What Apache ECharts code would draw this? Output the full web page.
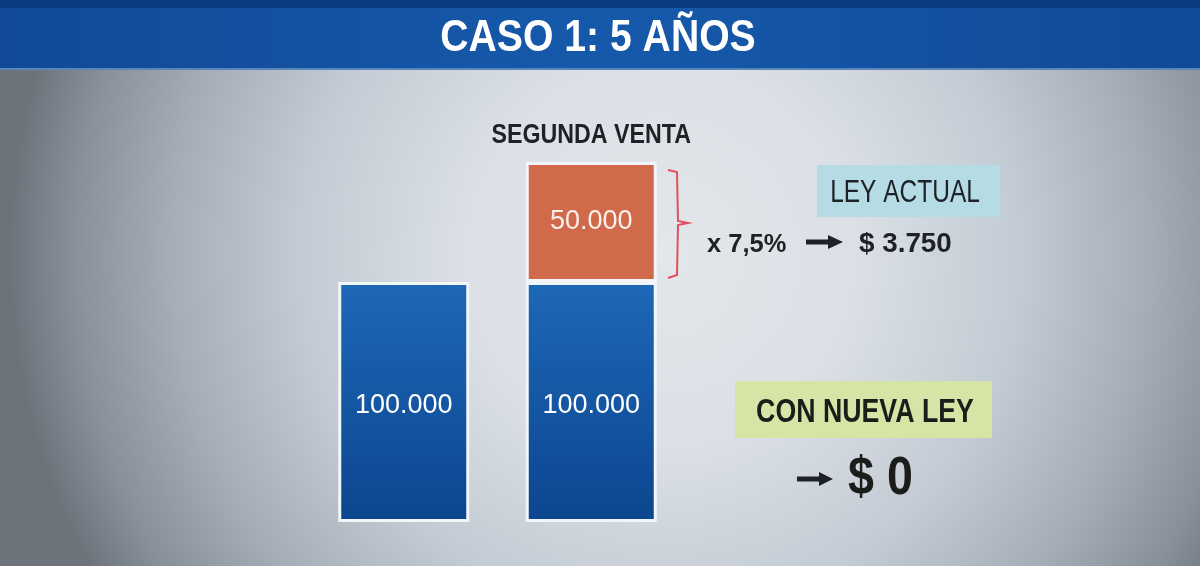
<!DOCTYPE html>
<html>
<head>
<meta charset="utf-8">
<script src="https://cdn.jsdelivr.net/npm/echarts@6/dist/echarts.min.js"></script>
<style>html,body{margin:0;padding:0;}#c{width:1200px;height:566px;}</style>
</head>
<body>
<div id="c"></div>
<script>
// ---- data ----
const titleText = 'CASO 1: 5 AÑOS';
const categories = ['PRIMERA VENTA', 'SEGUNDA VENTA'];
const topLabels = ['', 'SEGUNDA VENTA'];
const baseValues = [100000, 100000];
const gainValues = [null, 50000];
const taxRatePct = 7.5;
const newLawTax = 0;
const currentLawLabel = 'LEY ACTUAL';
const newLawLabel = 'CON NUEVA LEY';

const fmt = v => String(Math.round(v)).replace(/\B(?=(\d{3})+(?!\d))/g, '.');
const totals = baseValues.map((b, i) => (gainValues[i] == null ? b : b + gainValues[i]));
const taxCurrent = gainValues[1] * taxRatePct / 100;

const SANS = '"Liberation Sans", Arial, sans-serif';
const DARK = '#1e2226';
const chart = echarts.init(document.getElementById('c'));

function txt(x, y, text, font, fill, sx, align) {
  return { type: 'text', x: x, y: y, scaleX: sx || 1, z: 10,
    style: { x: 0, y: 0, text: text, font: font, fill: fill, textAlign: align || 'center', textVerticalAlign: 'middle' } };
}

chart.setOption({
  backgroundColor: {
    type: 'radial', x: 0.55, y: 0.45, r: 1.15,
    colorStops: [
      { offset: 0, color: '#e3e7eb' },
      { offset: 0.3, color: '#dbe0e6' },
      { offset: 0.55, color: '#c3cbd4' },
      { offset: 0.75, color: '#a5aeb8' },
      { offset: 0.9, color: '#88909a' },
      { offset: 1, color: '#6c737b' }
    ]
  },
  animation: false,
  grid: { left: 310, width: 375, top: 42, bottom: 44 },
  xAxis: { type: 'category', data: categories, show: false },
  yAxis: { type: 'value', min: 0, max: 200000, show: false },
  series: [
    {
      type: 'bar', stack: 's', data: baseValues, barWidth: 131,
      itemStyle: {
        color: { type: 'linear', x: 0, y: 0, x2: 0, y2: 1,
          colorStops: [{ offset: 0, color: '#1d68b7' }, { offset: 1, color: '#0c458f' }] },
        borderColor: '#f2f6f9', borderWidth: 3
      },
      label: { show: true, position: 'inside', offset: [0, 4], formatter: p => fmt(p.value),
        color: '#ffffff', fontSize: 27, fontFamily: SANS }
    },
    {
      type: 'bar', stack: 's', data: gainValues, barWidth: 131,
      itemStyle: { color: '#d06a4b', borderColor: '#f2f6f9', borderWidth: 3 },
      label: { show: true, position: 'inside', formatter: p => fmt(p.value),
        color: '#fbefe9', fontSize: 27, fontFamily: SANS }
    }
  ]
});

const pts = totals.map((t, i) => chart.convertToPixel({ gridIndex: 0 }, [i, t]));
const topTexts = topLabels.map((l, i) => l ? txt(pts[i][0], pts[i][1] - 27, l, 'bold 28px ' + SANS, DARK, 0.83) : null).filter(Boolean);

chart.setOption({
  graphic: [
    { type: 'rect', z: -1, shape: { x: 0, y: 0, width: 1200, height: 8 }, style: { fill: '#0b3b7f' } },
    { type: 'rect', z: -1, shape: { x: 0, y: 8, width: 1200, height: 61 },
      style: { fill: { type: 'linear', x: 0, y: 0, x2: 1, y2: 0,
        colorStops: [{ offset: 0, color: '#104a97' }, { offset: 0.5, color: '#1659ab' }, { offset: 1, color: '#104a97' }] } } },
    { type: 'rect', z: -1, shape: { x: 0, y: 68, width: 1200, height: 2 }, style: { fill: '#5a86bb' } },
    txt(598, 39, titleText, 'bold 45px ' + SANS, '#ffffff', 0.87),
    ...topTexts,
    // bracket
    { type: 'polyline', shape: { points: [[668, 170], [677, 172], [678, 221], [688, 223], [678, 225], [677, 275], [668, 278]] },
      style: { stroke: '#e0505f', lineWidth: 2, fill: null } },
    // LEY ACTUAL
    { type: 'rect', shape: { x: 817, y: 165, width: 183, height: 52 }, style: { fill: '#b5dbe5' } },
    txt(905, 193, currentLawLabel, '31px ' + SANS, DARK, 0.79),
    txt(707, 245, 'x ' + String(taxRatePct).replace('.', ',') + '%', 'bold 26px ' + SANS, DARK, 0.98, 'left'),
    { type: 'polyline', shape: { points: [[806, 242], [832, 242]] }, style: { stroke: DARK, lineWidth: 5 } },
    { type: 'polygon', shape: { points: [[828, 235], [843, 242], [828, 249]] }, style: { fill: DARK } },
    txt(859, 245, '$ ' + fmt(taxCurrent), 'bold 27px ' + SANS, DARK, 1.03, 'left'),
    // CON NUEVA LEY
    { type: 'rect', shape: { x: 735, y: 381, width: 257, height: 57 }, style: { fill: '#d6e5a5' } },
    txt(865, 413, newLawLabel, 'bold 33px ' + SANS, '#1b1d1b', 0.81),
    { type: 'polyline', shape: { points: [[797, 479], [823, 479]] }, style: { stroke: DARK, lineWidth: 5 } },
    { type: 'polygon', shape: { points: [[819, 472], [833, 479], [819, 486]] }, style: { fill: DARK } },
    txt(848, 479, '$ ' + fmt(newLawTax), 'bold 53px ' + SANS, '#1b1d1b', 0.88, 'left')
  ]
});
</script>
</body>
</html>
